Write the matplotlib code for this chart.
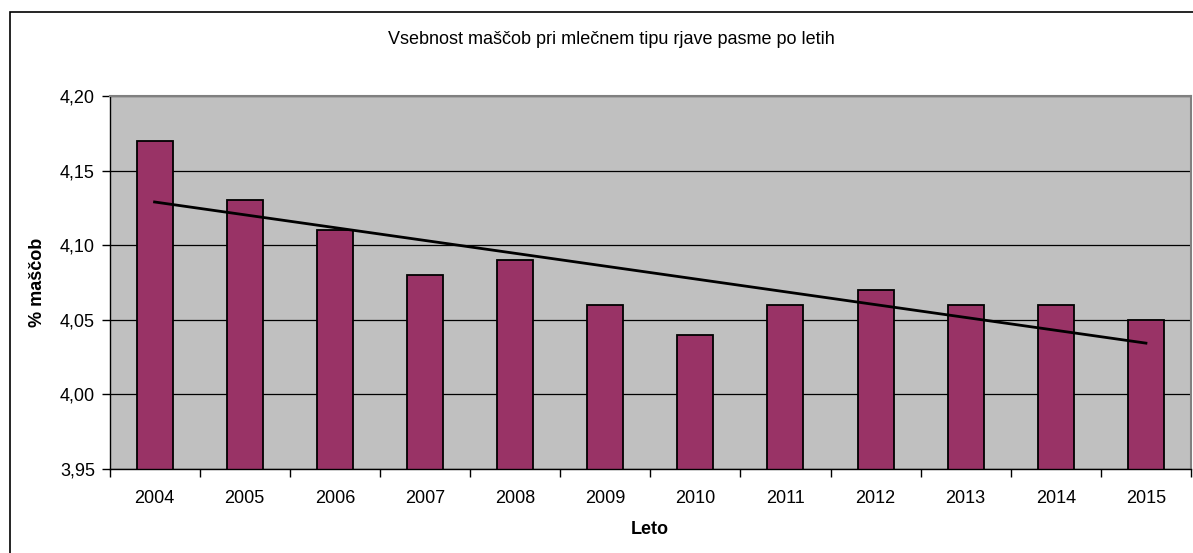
import matplotlib
matplotlib.use("Agg")
import matplotlib.pyplot as plt
import numpy as np
from matplotlib.patches import Rectangle

years = ["2004", "2005", "2006", "2007", "2008", "2009", "2010", "2011", "2012", "2013", "2014", "2015"]
fat = [4.17, 4.13, 4.11, 4.08, 4.09, 4.06, 4.04, 4.06, 4.07, 4.06, 4.06, 4.05]
y_ticks = [3.95, 4.00, 4.05, 4.10, 4.15, 4.20]
y_tick_labels = ["3,95", "4,00", "4,05", "4,10", "4,15", "4,20"]

title = "Vsebnost maščob pri mlečnem tipu rjave pasme po letih"
xlabel = "Leto"
ylabel = "% maščob"

plt.rcParams['font.family'] = ['Liberation Sans', 'DejaVu Sans']

W, H = 1193, 553
fig = plt.figure(figsize=(W / 100, H / 100), dpi=100)
ax = fig.add_axes([109.5 / W, 1 - 469 / H, (1191 - 109.5) / W, (469 - 96) / H])
ax.set_facecolor("#C0C0C0")

x = np.arange(len(years))
ax.set_axisbelow(True)
ax.yaxis.grid(True, color="black", linewidth=0.9)
ax.bar(x, fat, width=0.4, color="#993366", edgecolor="black", linewidth=1.3, zorder=2)

# linear trendline
coef = np.polyfit(x, fat, 1)
ax.plot(x, np.polyval(coef, x), color="black", linewidth=2, zorder=3)

ax.set_xlim(-0.5, len(years) - 0.5)
ax.set_ylim(3.95, 4.20)
ax.set_yticks(y_ticks)
ax.set_yticklabels(y_tick_labels)
ax.set_xticks(x)
ax.set_xticklabels(years)
ax.set_xticks(np.arange(len(years) + 1) - 0.5, minor=True)
ax.tick_params(axis="x", which="major", length=0, pad=15, labelsize=13)
ax.tick_params(axis="x", which="minor", length=5.5, width=1, color="black", direction="out")
ax.tick_params(axis="y", which="major", length=5.5, width=1, color="black", direction="out", pad=5, labelsize=13)

for s in ["left", "bottom"]:
    ax.spines[s].set_color("black")
    ax.spines[s].set_linewidth(1)
for s in ["top", "right"]:
    ax.spines[s].set_color("#808080")
    ax.spines[s].set_linewidth(1.5)

ax.set_xlabel(xlabel, fontsize=13, fontweight="bold", labelpad=10)
fig.text(38 / W, 1 - 282 / H, ylabel, rotation=90, fontsize=13, fontweight="bold", ha="center", va="center")
fig.text(611 / W, 1 - 39 / H, title, fontsize=13, ha="center", va="center")

# outer chart frame
fig.add_artist(Rectangle((9.5 / W, -0.1), 1.2, 1.1 - 12 / H, transform=fig.transFigure,
                         fill=False, edgecolor="black", linewidth=1.2, clip_on=False))

fig.savefig("out.png", dpi=100)
